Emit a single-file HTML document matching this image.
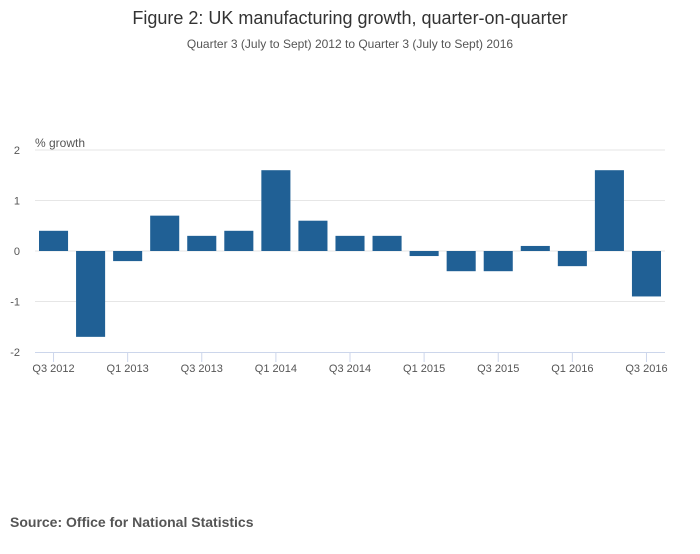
<!DOCTYPE html>
<html><head><meta charset="utf-8"><style>
body{margin:0;background:#fff;width:700px;height:549px;overflow:hidden;font-family:"Liberation Sans",sans-serif;}
</style></head><body>
<svg width="700" height="549" xmlns="http://www.w3.org/2000/svg">
<text x="350" y="24" text-anchor="middle" font-size="18" fill="#333">Figure 2: UK manufacturing growth, quarter-on-quarter</text>
<text x="350" y="48" text-anchor="middle" font-size="12" fill="#555">Quarter 3 (July to Sept) 2012 to Quarter 3 (July to Sept) 2016</text>
<text x="35" y="147" font-size="12" fill="#555">% growth</text>
<g id="grid"></g>
<g id="bars"></g>
<g id="xaxis"></g>
<g id="yaxis"></g>
<text x="10" y="527" font-size="14" font-weight="bold" fill="#555">Source: Office for National Statistics</text>
</svg>
<script>
const categories=["Q3 2012","Q4 2012","Q1 2013","Q2 2013","Q3 2013","Q4 2013","Q1 2014","Q2 2014","Q3 2014","Q4 2014","Q1 2015","Q2 2015","Q3 2015","Q4 2015","Q1 2016","Q2 2016","Q3 2016"];
const values=[0.4,-1.7,-0.2,0.7,0.3,0.4,1.6,0.6,0.3,0.3,-0.1,-0.4,-0.4,0.1,-0.3,1.6,-0.9];
const yTicks=[2,1,0,-1,-2];
const NS="http://www.w3.org/2000/svg";
const L=35,R=665,T=150,B=352,yMin=-2,yMax=2;
const bw=(R-L)/categories.length;
function y(v){return T+(yMax-v)/(yMax-yMin)*(B-T);}
function x(i){return L+i*bw;}
function mk(tag,attrs,parent){const e=document.createElementNS(NS,tag);for(const k in attrs)e.setAttribute(k,attrs[k]);document.getElementById(parent).appendChild(e);return e;}
yTicks.forEach(t=>{
  if(t!==yMin){const g=mk("line",{x1:L,x2:R,y1:y(t),y2:y(t),stroke:"#e6e6e6","stroke-width":1},"grid");
  
  }
  const tx=mk("text",{x:20,y:y(t)+4,"font-size":11,fill:"#555","text-anchor":"end"},"yaxis");
  tx.textContent=t;
  
  
});
values.forEach((v,i)=>{
  const r=mk("rect",{x:x(i)+4,width:bw-8,y:Math.min(y(v),y(0)),height:Math.abs(y(v)-y(0)),fill:"#206095"},"bars");
  
  
});
const ax=mk("line",{x1:L,x2:R,y1:B+0.5,y2:B+0.5,stroke:"#ccd6eb","stroke-width":1},"xaxis");


categories.forEach((c,i)=>{
  if(i%2)return;
  const cx=x(i)+bw/2;
  const tk=mk("line",{x1:cx,x2:cx,y1:B,y2:B+10,stroke:"#ccd6eb"},"xaxis");
  
  
  const t=mk("text",{x:cx,y:B+20,"font-size":11,fill:"#555","text-anchor":"middle"},"xaxis");
  t.textContent=c;
  
  
});
</script>
</body></html>
